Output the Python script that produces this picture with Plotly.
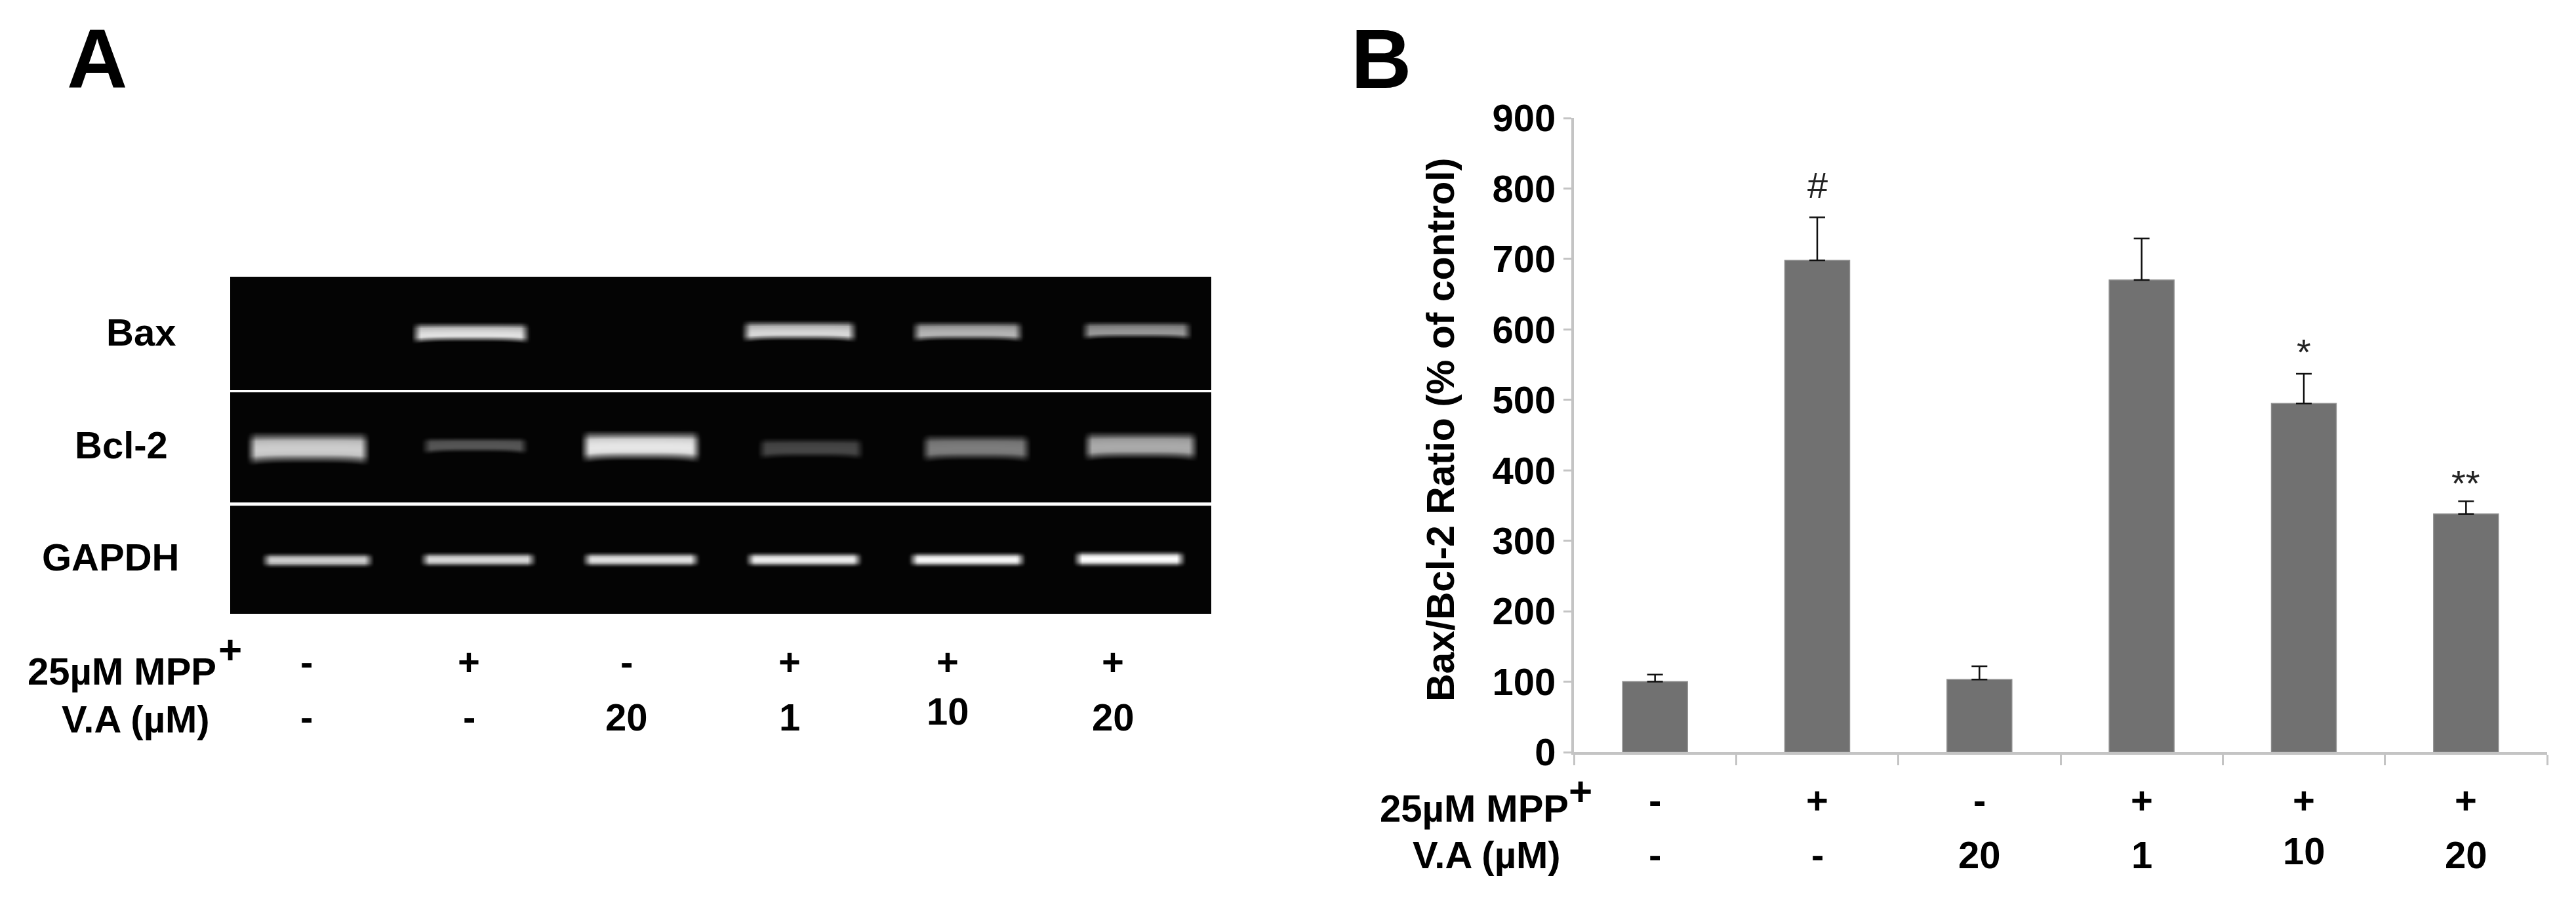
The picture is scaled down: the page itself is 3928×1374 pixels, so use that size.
import numpy as np
import plotly.graph_objects as go

W, H = 3928, 1374
FONT = "Liberation Sans"
DARK = "#111111"
PAGE_INSET = 8

# Panel B data
bar_pos = [1, 2, 3, 4, 5, 6]
ratio = [100, 698, 103, 670, 495, 338]
err_up = [10, 61, 19, 59, 42, 18]
sig_labels = ["", "#", "", "", "*", "**"]
sig_y = [None, 805, None, None, 568, 382]
mpp_row = ["-", "+", "-", "+", "+", "+"]
va_row = ["-", "-", "20", "1", "10", "20"]
y_ticks = [0, 100, 200, 300, 400, 500, 600, 700, 800, 900]
x_tick_edges = [0.5, 1.5, 2.5, 3.5, 4.5, 5.5, 6.5]

# Panel A gel bands, one entry per lane (position on the gel scale)
lane_label_x = [467, 715, 955, 1204, 1445, 1697]
gel_names = ["Bax", "Bcl-2", "GAPDH"]
gel_label_x = [215, 185, 168]
gel_label_y = [507, 678, 849]
gel_top = [422, 599, 772]
gel_bottom = [594, 766, 936]
bax_left = [0, 627, 0, 1130, 1389, 1648]
bax_right = [0, 808, 0, 1307, 1561, 1818]
bax_top = [492, 492, 492, 489, 490, 490]
bax_bot = [522, 523, 522, 521, 521, 518]
bax_peak = [0, 225, 0, 215, 180, 150]
bcl_left = [376, 642, 885, 1154, 1404, 1651]
bcl_right = [564, 806, 1069, 1318, 1572, 1827]
bcl_top = [660, 667, 658, 668, 663, 659]
bcl_bot = [709, 694, 705, 702, 705, 703]
bcl_peak = [205, 85, 230, 70, 125, 170]
gap_left = [398, 640, 887, 1136, 1385, 1636]
gap_right = [570, 818, 1067, 1315, 1564, 1808]
gap_top = [843, 842, 842, 842, 842, 840]
gap_bot = [865, 864, 864, 864, 864, 864]
gap_peak = [205, 215, 225, 238, 248, 255]
gel_bands = [
    (bax_left, bax_right, bax_top, bax_bot, bax_peak, 0.70, 0.5, 4),
    (bcl_left, bcl_right, bcl_top, bcl_bot, bcl_peak, 0.55, 0.45, 5),
    (gap_left, gap_right, gap_top, gap_bot, gap_peak, 0.50, 0.26, 0),
]


def px(x):
    return (x - PAGE_INSET) / W


def py(y):
    return 1 - (y - PAGE_INSET) / H


def gel_image(top, bottom, bands):
    left, right, btop, bbot, peak, pos, sig, smile = bands
    xs = np.arange(351, 1848, 3.0)
    ys = np.arange(top, bottom + 1, 1.5)
    X, Y = np.meshgrid(xs, ys)
    Z = np.full(X.shape, 4.0)
    for l, r, t, b, p in zip(left, right, btop, bbot, peak):
        if p == 0:
            continue
        c, hw = (l + r) / 2, (r - l) / 2
        u = np.clip((X - c) / hw, -1.2, 1.2)
        ex = np.clip((1 - np.abs(u)) * hw / 14, 0, 1)
        bottom_edge = b - smile * (1 - u ** 4)
        tt = (Y - t) / (bottom_edge - t)
        ey = np.clip(tt * 3 + 0.2, 0, 1) * np.clip((1 - tt) * 3 + 0.2, 0, 1)
        glow = np.exp(-((tt - pos) / sig) ** 2 / 2)
        Z = np.maximum(Z, p * ex * ey * (0.4 + 0.6 * glow))
    return xs, ys, Z


fig = go.Figure()

fig.add_trace(go.Bar(
    x=bar_pos, y=ratio, width=0.4, xaxis="x", yaxis="y",
    marker=dict(color="#717171", line=dict(color="#8c8c8c", width=1.5)),
    error_y=dict(type="data", symmetric=False, array=err_up, arrayminus=[0] * 6,
                 color=DARK, thickness=2.5, width=12),
    showlegend=False,
))

for i in range(3):
    xs, ys, Z = gel_image(gel_top[i], gel_bottom[i], gel_bands[i])
    fig.add_trace(go.Heatmap(
        x=xs, y=ys, z=Z, xaxis="x2", yaxis="y2", zmin=0, zmax=255,
        colorscale=[[0, "#000000"], [1, "#ffffff"]], showscale=False, zsmooth="best",
    ))

anns = []


def text(x, y, s, size=58, bold=True, xref="paper", anchor="center", color="#000000", yanchor="middle", yref="paper"):
    anns.append(dict(
        x=x, y=y, xref=xref, yref=yref, text=f"<b>{s}</b>" if bold else s, showarrow=False,
        xanchor=anchor, yanchor=yanchor, font=dict(family=FONT, size=size, color=color),
    ))


# Panel letters
text(px(148), py(90), "A", size=128)
text(px(2106), py(90), "B", size=128)

# Panel B rows and significance labels
for xv, m, v in zip(bar_pos, mpp_row, va_row):
    text(xv, py(1220), m, xref="x")
    text(xv, py(1297 if v == "10" else 1303), v, xref="x")
for xv, s, yv in zip(bar_pos, sig_labels, sig_y):
    if s:
        text(xv, yv, s, size=56, bold=False, xref="x", yref="y", color="#222222")
text(px(2394), py(1232), "25µM MPP", anchor="right")
text(px(2410), py(1206), "+", size=62)
text(px(2382), py(1303), "V.A (µM)", anchor="right")

# Panel A rows and gel labels
for xv, m, v in zip(lane_label_x, mpp_row, va_row):
    text(xv, py(1009), m, xref="x2")
    text(xv, py(1084 if v == "10" else 1093), v, xref="x2")
for name, xv, yv in zip(gel_names, gel_label_x, gel_label_y):
    text(px(xv), py(yv), name)
text(px(332), py(1023), "25µM MPP", anchor="right")
text(px(351), py(990), "+", size=62)
text(px(322), py(1096), "V.A (µM)", anchor="right")

fig.update_layout(
    width=W, height=H, autosize=False, margin=dict(l=0, r=0, t=0, b=0),
    paper_bgcolor="white", plot_bgcolor="white", showlegend=False,
    font=dict(family=FONT, color="#000000"), annotations=anns,
    xaxis=dict(domain=[px(2400), px(3884)], range=[0.5, 6.5], tickmode="array", automargin=False,
               tickvals=x_tick_edges, ticktext=[""] * 7, ticks="outside", ticklen=16,
               tickwidth=3, tickcolor="#c4c4c4", showline=True, linecolor="#c4c4c4",
               linewidth=4, showgrid=False, zeroline=False, anchor="y"),
    yaxis=dict(domain=[py(1147), py(180)], range=[0, 900], tickmode="array", automargin=False,
               tickvals=y_ticks, ticks="outside", ticklen=12, tickwidth=3,
               tickcolor="#c4c4c4", showline=True, linecolor="#c4c4c4", linewidth=4,
               showgrid=False, zeroline=False, anchor="x",
               tickfont=dict(family=FONT, size=58, color="#000000", weight="bold"),
               title=dict(text="<b>&nbsp;Bax/Bcl-2 Ratio (% of control)</b>", standoff=40,
                          font=dict(family=FONT, size=59, color="#000000"))),
    xaxis2=dict(domain=[px(351), px(1847)], range=[351, 1847], visible=False, anchor="y2", automargin=False),
    yaxis2=dict(domain=[py(936), py(422)], range=[936, 422], visible=False, anchor="x2", automargin=False),
)

fig.write_html("out.html")
